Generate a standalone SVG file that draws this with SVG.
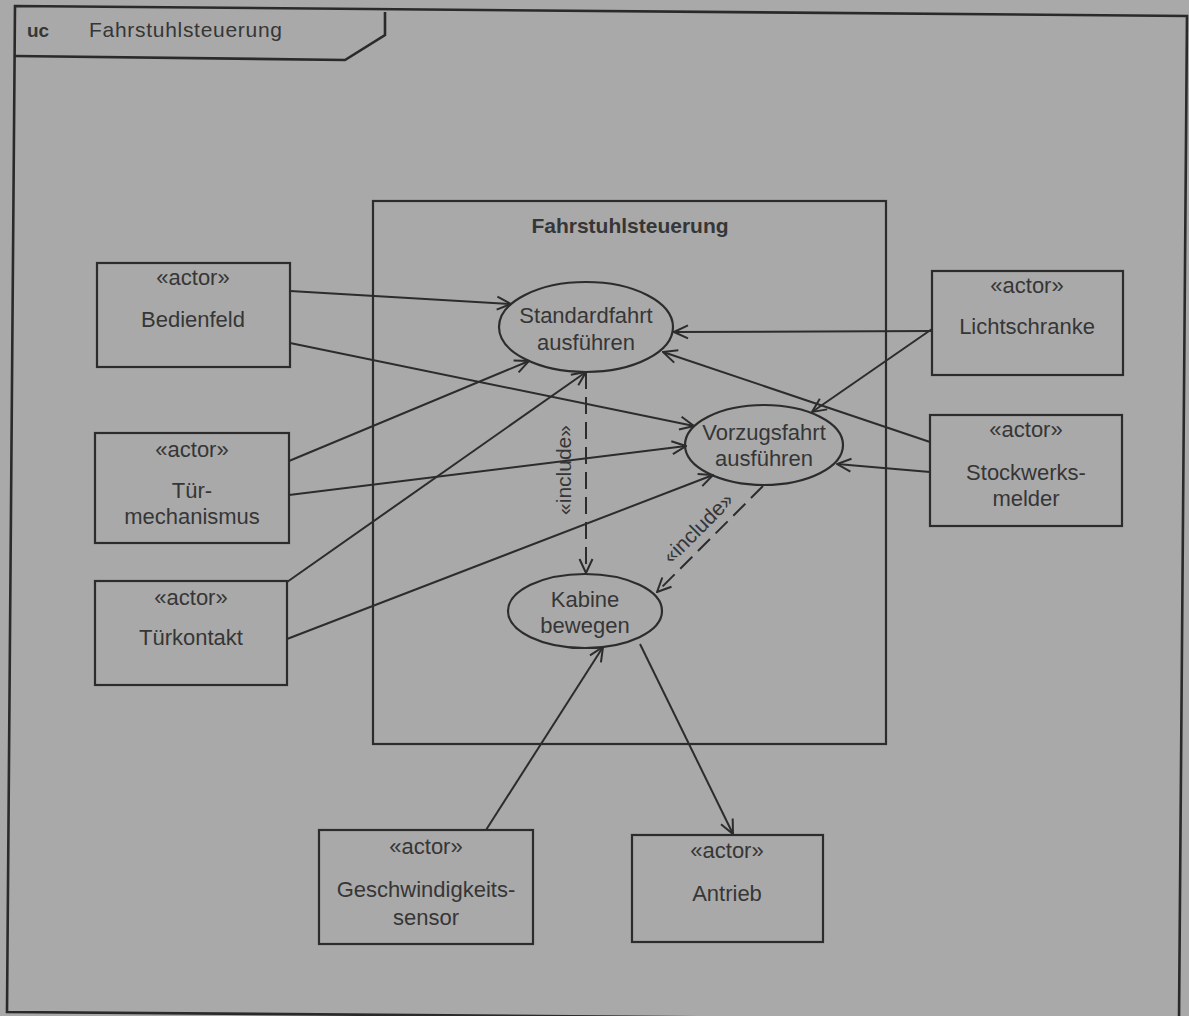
<svg xmlns="http://www.w3.org/2000/svg" width="1189" height="1016" viewBox="0 0 1189 1016">
  <defs>
    <style>
      .bg { fill: #a9a9a9; }
      .box { fill: none; stroke: #2c2c2c; stroke-width: 2.2; }
      .frame { fill: none; stroke: #2a2a2a; stroke-width: 2.6; stroke-linejoin: miter; }
      .uc { fill: none; stroke: #2c2c2c; stroke-width: 2.2; }
      .assoc { fill: none; stroke: #2c2c2c; stroke-width: 2; marker-end: url(#open); }
      .incl { fill: none; stroke: #2c2c2c; stroke-width: 2; stroke-dasharray: 17 8; marker-end: url(#open); }
      text { font-family: "Liberation Sans", Arial, sans-serif; font-size: 22px; fill: #363636; }
      .c { text-anchor: middle; }
      .b { font-weight: bold; }
      .lbl { font-size: 21px; }
    </style>
    <!-- open arrowhead used by all associations and includes -->
    <marker id="open" viewBox="0 0 16 16" refX="15" refY="8" markerWidth="16" markerHeight="16" markerUnits="userSpaceOnUse" orient="auto">
      <path d="M1,1.5 L15,8 L1,14.5" fill="none" stroke="#2c2c2c" stroke-width="2" stroke-dasharray="none"/>
    </marker>
  </defs>

  <rect class="bg" x="0" y="0" width="1189" height="1016"/>

  <!-- diagram frame with name tab -->
  <g id="frame">
    <path class="frame" d="M15,6 L1187,16 L1179,1021 L7,1012 Z"/>
    <path class="frame" d="M385,12 L385,35 L345,60 L15,56"/>
    <text class="b" x="27" y="37" style="font-size:19px">uc</text>
    <text x="89" y="37" style="font-size:21px" textLength="193">Fahrstuhlsteuerung</text>
  </g>

  <!-- system boundary -->
  <g id="system">
    <rect class="box" x="373" y="201" width="513" height="543"/>
    <text class="c b" x="630" y="233" style="font-size:21px">Fahrstuhlsteuerung</text>
  </g>

  <!-- use cases -->
  <g id="uc-standardfahrt">
    <ellipse class="uc" cx="586" cy="327" rx="87" ry="45"/>
    <text class="c" x="586" y="323">Standardfahrt</text>
    <text class="c" x="586" y="350">ausführen</text>
  </g>
  <g id="uc-vorzugsfahrt">
    <ellipse class="uc" cx="764" cy="445" rx="79" ry="40"/>
    <text class="c" x="764" y="440">Vorzugsfahrt</text>
    <text class="c" x="764" y="466">ausführen</text>
  </g>
  <g id="uc-kabine">
    <ellipse class="uc" cx="585" cy="611" rx="77" ry="37"/>
    <text class="c" x="585" y="607">Kabine</text>
    <text class="c" x="585" y="633">bewegen</text>
  </g>

  <!-- actors -->
  <g id="actor-bedienfeld">
    <rect class="box" x="97" y="263" width="193" height="104"/>
    <text class="c" x="193" y="285">«actor»</text>
    <text class="c" x="193" y="327">Bedienfeld</text>
  </g>
  <g id="actor-tuermechanismus">
    <rect class="box" x="95" y="433" width="194" height="110"/>
    <text class="c" x="192" y="457">«actor»</text>
    <text class="c" x="192" y="498">Tür-</text>
    <text class="c" x="192" y="524">mechanismus</text>
  </g>
  <g id="actor-tuerkontakt">
    <rect class="box" x="95" y="581" width="192" height="104"/>
    <text class="c" x="191" y="605">«actor»</text>
    <text class="c" x="191" y="645">Türkontakt</text>
  </g>
  <g id="actor-lichtschranke">
    <rect class="box" x="932" y="271" width="191" height="104"/>
    <text class="c" x="1027" y="293">«actor»</text>
    <text class="c" x="1027" y="334">Lichtschranke</text>
  </g>
  <g id="actor-stockwerksmelder">
    <rect class="box" x="930" y="415" width="192" height="111"/>
    <text class="c" x="1026" y="437">«actor»</text>
    <text class="c" x="1026" y="480">Stockwerks-</text>
    <text class="c" x="1026" y="506">melder</text>
  </g>
  <g id="actor-geschwindigkeitssensor">
    <rect class="box" x="319" y="830" width="214" height="114"/>
    <text class="c" x="426" y="854">«actor»</text>
    <text class="c" x="426" y="897">Geschwindigkeits-</text>
    <text class="c" x="426" y="925">sensor</text>
  </g>
  <g id="actor-antrieb">
    <rect class="box" x="632" y="835" width="191" height="107"/>
    <text class="c" x="727" y="858">«actor»</text>
    <text class="c" x="727" y="901">Antrieb</text>
  </g>

  <!-- associations and include dependencies -->
  <g id="connectors">
    <line class="assoc" x1="290" y1="291" x2="511" y2="304"/>
    <line class="assoc" x1="290" y1="343" x2="694" y2="426"/>
    <line class="assoc" x1="289" y1="461" x2="529" y2="361"/>
    <line class="assoc" x1="289" y1="495" x2="686" y2="446"/>
    <line class="assoc" x1="287" y1="582" x2="586" y2="372"/>
    <line class="assoc" x1="287" y1="639" x2="713" y2="475"/>
    <line class="assoc" x1="932" y1="331" x2="674" y2="332"/>
    <line class="assoc" x1="932" y1="329" x2="812" y2="412"/>
    <line class="assoc" x1="930" y1="442" x2="663" y2="352"/>
    <line class="assoc" x1="930" y1="472" x2="837" y2="464"/>
    <line class="assoc" x1="486" y1="830" x2="603" y2="647"/>
    <line class="assoc" x1="640" y1="644" x2="733" y2="834"/>

    <line class="incl" x1="586" y1="372" x2="586" y2="573"/>
    <line class="incl" x1="763" y1="486" x2="657" y2="592"/>
    <text class="c lbl" transform="translate(564,470) rotate(-90)" x="0" y="7">«include»</text>
    <text class="c lbl" transform="translate(698,528) rotate(-45)" x="0" y="7">«include»</text>
  </g>
</svg>
